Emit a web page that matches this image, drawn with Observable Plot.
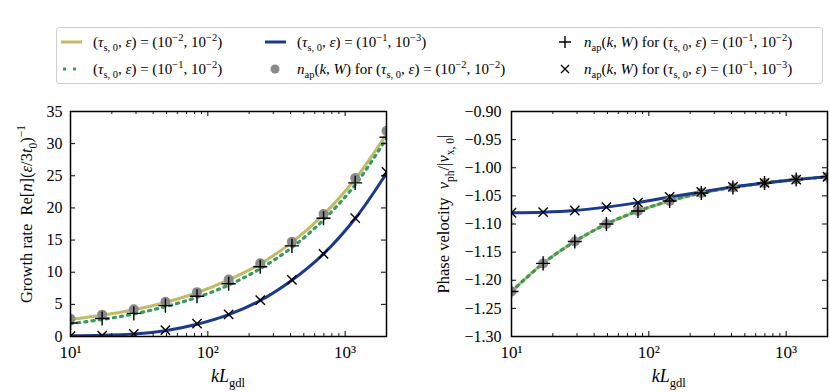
<!DOCTYPE html>
<html><head><meta charset="utf-8">
<script src="https://cdn.jsdelivr.net/npm/d3@7"></script>
<script src="https://cdn.jsdelivr.net/npm/@observablehq/plot@0.6"></script>
<style>
body{margin:0;background:#fff;}
#fig{position:relative;width:830px;height:392px;font-family:"Liberation Serif","Times New Roman","Nimbus Roman","Noto Serif","FreeSerif","DejaVu Serif",serif;overflow:hidden;}
#legend{position:absolute;left:56px;top:27px;width:767px;height:57px;border:1px solid #cfcfcf;border-radius:3px;box-sizing:border-box;background:#fff;}
.lt{position:absolute;font-size:15px;white-space:nowrap;line-height:14px;transform:translateY(-50%);}
.lt sub,.lt sup{font-size:10.5px;line-height:0;}
.hd{position:absolute;}
#plots{position:absolute;left:0;top:100px;width:830px;height:292px;display:flex;}
</style></head>
<body>
<div id="fig">
  <div id="legend"></div>
  <div id="plots"></div>
</div>
<script>
// ---------------- data ----------------
const kValues = [10, 17.0, 28.9, 49.1, 83.4, 141.8, 240.9, 409.5, 696, 1183, 2000];

// growth rate panel
const growthYellow = [2.65, 3.3, 4.15, 5.3, 6.8, 8.8, 11.3, 14.65, 18.95, 24.5, 31.5];   // (1e-2,1e-2)
const growthGreen  = [2.0, 2.65, 3.5, 4.65, 6.1, 8.0, 10.55, 13.85, 18.15, 23.6, 30.8];   // (1e-1,1e-2)
const growthBlue   = [0.1, 0.18, 0.4, 0.9, 1.9, 3.4, 5.6, 8.75, 12.85, 18.35, 25.4];     // (1e-1,1e-3)
const growthDots   = [2.75, 3.4, 4.25, 5.4, 6.9, 8.85, 11.4, 14.75, 19.05, 24.65, 32.0];
const growthPlus   = [2.1, 2.8, 3.6, 4.8, 6.25, 8.2, 10.85, 14.1, 18.4, 23.9, 31.0];
const growthCross  = [0.05, 0.15, 0.4, 1.0, 2.0, 3.45, 5.65, 8.8, 12.85, 18.4, 25.6];

// phase velocity panel
const phaseYellow = [-1.220, -1.170, -1.131, -1.100, -1.077, -1.059, -1.045, -1.035, -1.027, -1.021, -1.016];
const phaseGreen  = [-1.220, -1.170, -1.131, -1.100, -1.077, -1.059, -1.045, -1.035, -1.027, -1.021, -1.016];
const phaseBlue   = [-1.080, -1.079, -1.076, -1.070, -1.062, -1.052, -1.043, -1.034, -1.027, -1.021, -1.016];
const phaseDots   = [-1.220, -1.170, -1.131, -1.100, -1.077, -1.059, -1.045, -1.035, -1.027, -1.021, -1.016];
const phasePlus   = [-1.220, -1.170, -1.131, -1.100, -1.077, -1.059, -1.045, -1.035, -1.027, -1.021, -1.016];
const phaseCross  = [-1.080, -1.079, -1.076, -1.070, -1.062, -1.052, -1.043, -1.034, -1.027, -1.021, -1.016];

// ticks
const xMajor = [10, 100, 1000];
const xMinor = [20, 30, 40, 50, 60, 70, 80, 90, 200, 300, 400, 500, 600, 700, 800, 900, 2000];
const xTickLabels = ["10¹", "10²", "10³"];
const yTicksGrowth = [0, 5, 10, 15, 20, 25, 30, 35];
const yTicksPhase = [-1.30, -1.25, -1.20, -1.15, -1.10, -1.05, -1.00, -0.95, -0.90];

// legend labels
const legendLabels = [
  '(<i>τ</i><sub>s, 0</sub>, <i>ε</i>) = (10<sup>−2</sup>, 10<sup>−2</sup>)',
  '(<i>τ</i><sub>s, 0</sub>, <i>ε</i>) = (10<sup>−1</sup>, 10<sup>−2</sup>)',
  '(<i>τ</i><sub>s, 0</sub>, <i>ε</i>) = (10<sup>−1</sup>, 10<sup>−3</sup>)',
  '<i>n</i><sub>ap</sub>(<i>k</i>, <i>W</i>) for (<i>τ</i><sub>s, 0</sub>, <i>ε</i>) = (10<sup>−2</sup>, 10<sup>−2</sup>)',
  '<i>n</i><sub>ap</sub>(<i>k</i>, <i>W</i>) for (<i>τ</i><sub>s, 0</sub>, <i>ε</i>) = (10<sup>−1</sup>, 10<sup>−2</sup>)',
  '<i>n</i><sub>ap</sub>(<i>k</i>, <i>W</i>) for (<i>τ</i><sub>s, 0</sub>, <i>ε</i>) = (10<sup>−1</sup>, 10<sup>−3</sup>)'
];

// ---------------- style ----------------
const FONT = "'Liberation Serif', 'Times New Roman', 'Nimbus Roman', 'Noto Serif', 'FreeSerif', 'DejaVu Serif', serif";
const cYellow = "#bfbc67", cGreen = "#3a9b5c", cBlue = "#1b3a8c", cGray = "#8a8a8a";
const W = 415, H = 292, MT = 11, MB = 56;

const rows = (ys) => kValues.map((k, i) => ({k, v: ys[i]}));

function panel({marginLeft, marginRight, yDomain, yTicks, yFormat, yPad, series}) {
  const plotW = W - marginLeft - marginRight, plotH = H - MT - MB;
  const fmtX = (d) => xTickLabels[xMajor.indexOf(d)];
  return Plot.plot({
    width: W, height: H, marginLeft, marginRight, marginTop: MT, marginBottom: MB,
    x: {type: "log", domain: [10, 2000]},
    y: {domain: yDomain},
    style: {fontFamily: FONT, fontSize: "16px", color: "black", background: "white", overflow: "visible"},
    marks: [
      Plot.line(rows(series.yellow), {x: "k", y: "v", stroke: cYellow, strokeWidth: 3, curve: "catmull-rom", clip: true}),
      Plot.line(rows(series.green), {x: "k", y: "v", stroke: cGreen, strokeWidth: 3.2, strokeDasharray: "2.2,5", curve: "catmull-rom", clip: true}),
      Plot.line(rows(series.blue), {x: "k", y: "v", stroke: cBlue, strokeWidth: 3, curve: "catmull-rom", clip: true}),
      Plot.dot(rows(series.dots), {x: "k", y: "v", r: 5, fill: cGray, clip: true}),
      Plot.dot(rows(series.plus), {x: "k", y: "v", symbol: "plus", r: 4.6, stroke: "black", strokeWidth: 1.4, clip: true}),
      Plot.dot(rows(series.cross), {x: "k", y: "v", symbol: "times", r: 4.3, stroke: "black", strokeWidth: 1.4, clip: true}),
      Plot.axisX(xMajor, {tickSize: 0, tickPadding: 9, tickFormat: fmtX, label: null, fontSize: 17, fontFamily: FONT}),
      Plot.axisY(yTicks, {tickSize: 0, tickPadding: yPad, tickFormat: yFormat, label: null, fontSize: 16, fontFamily: FONT}),
      Plot.tickX(xMajor, {x: d => d, insetTop: plotH - 5, strokeWidth: 1}),
      Plot.tickX(xMajor, {x: d => d, insetBottom: plotH - 5, strokeWidth: 1}),
      Plot.tickX(xMinor, {x: d => d, insetTop: plotH - 3, strokeWidth: 0.9}),
      Plot.tickX(xMinor, {x: d => d, insetBottom: plotH - 3, strokeWidth: 0.9}),
      Plot.tickY(yTicks, {y: d => d, insetRight: plotW - 5, strokeWidth: 1}),
      Plot.tickY(yTicks, {y: d => d, insetLeft: plotW - 5, strokeWidth: 1}),
      Plot.frame({stroke: "black", strokeWidth: 1.5})
    ]
  });
}

function mathText(sel, parts, fs) {
  let shift = 0;
  for (const [t, kind] of parts) {
    const target = kind === "sub" ? fs * 0.28 : kind === "sup" ? -fs * 0.42 : 0;
    const ts = sel.append("tspan").text(t).attr("dy", target - shift);
    shift = target;
    if (kind === "it" ) ts.attr("font-style", "italic");
    if (kind === "sub" || kind === "sup") ts.attr("font-size", fs * 0.7);
  }
}

const leftSvg = panel({
  marginLeft: 70, marginRight: 29, yDomain: [0, 35], yTicks: yTicksGrowth, yFormat: d3.format("d"), yPad: 8,
  series: {yellow: growthYellow, green: growthGreen, blue: growthBlue, dots: growthDots, plus: growthPlus, cross: growthCross}
});
const rightSvg = panel({
  marginLeft: 96, marginRight: 3, yDomain: [-1.30, -0.90], yTicks: yTicksPhase, yFormat: d3.format(".2f"), yPad: 10,
  series: {yellow: phaseYellow, green: phaseGreen, blue: phaseBlue, dots: phaseDots, plus: phasePlus, cross: phaseCross}
});
document.getElementById("plots").append(leftSvg, rightSvg);

// axis labels with math
function addLabels(svg, xCenter, yLabelX, yLabelParts) {
  const s = d3.select(svg);
  const g = s.append("g").attr("font-family", FONT).attr("fill", "black");
  const xl = g.append("text").attr("x", xCenter).attr("y", 282).attr("text-anchor", "middle").attr("font-size", 18);
  mathText(xl, [["kL", "it"], ["gdl", "sub"]], 18);
  const yl = g.append("text").attr("transform", `translate(${yLabelX},${114}) rotate(-90)`)
    .attr("text-anchor", "middle").attr("font-size", 16.5);
  mathText(yl, yLabelParts, 16.5);
}
addLabels(leftSvg, 228, 32, [["Growth rate  Re[", ""], ["n", "it"], ["](", ""], ["ε", "it"], ["/3", ""], ["t", "it"], ["0", "sub"], [")", ""], ["−1", "sup"]]);
addLabels(rightSvg, 668.7 - 415, 34, [["Phase velocity  ", ""], ["v", "it"], ["ph", "sub"], ["/|", ""], ["v", "it"], ["x", "sub"], [", 0", "sub"], ["|", ""]]);

// legend
const legend = document.getElementById("legend");
const L0 = 56, T0 = 27;
const items = [
  {hx: 60, tx: 92, y: 41, kind: "line", color: cYellow, label: legendLabels[0]},
  {hx: 60, tx: 92, y: 68, kind: "dotted", color: cGreen, label: legendLabels[1]},
  {hx: 264, tx: 296, y: 41, kind: "line", color: cBlue, label: legendLabels[2]},
  {hx: 264, tx: 296, y: 68, kind: "dot", color: cGray, label: legendLabels[3]},
  {hx: 554, tx: 583, y: 41, kind: "plus", color: "black", label: legendLabels[4]},
  {hx: 554, tx: 583, y: 68, kind: "times", color: "black", label: legendLabels[5]}
];
for (const it of items) {
  const h = d3.create("svg").attr("class", "hd").attr("width", 22).attr("height", 14)
    .style("left", (it.hx - L0) + "px").style("top", (it.y - T0 - 7) + "px");
  if (it.kind === "line") h.append("line").attr("x1", 0).attr("x2", 21).attr("y1", 7).attr("y2", 7).attr("stroke", it.color).attr("stroke-width", 3);
  if (it.kind === "dotted") h.append("line").attr("x1", 2).attr("x2", 21).attr("y1", 7).attr("y2", 7).attr("stroke", it.color).attr("stroke-width", 3.2).attr("stroke-dasharray", "3,7");
  if (it.kind === "dot") h.append("circle").attr("cx", 10).attr("cy", 7).attr("r", 4.5).attr("fill", it.color);
  if (it.kind === "plus") h.append("path").attr("d", "M4,7H16M10,1V13").attr("stroke", "black").attr("stroke-width", 1.4);
  if (it.kind === "times") h.append("path").attr("d", "M6,3L14,11M6,11L14,3").attr("stroke", "black").attr("stroke-width", 1.4);
  legend.append(h.node());
  const t = document.createElement("div");
  t.className = "lt";
  t.style.left = (it.tx - L0) + "px";
  t.style.top = (it.y - T0) + "px";
  t.innerHTML = it.label;
  legend.append(t);
}
</script>
</body></html>
